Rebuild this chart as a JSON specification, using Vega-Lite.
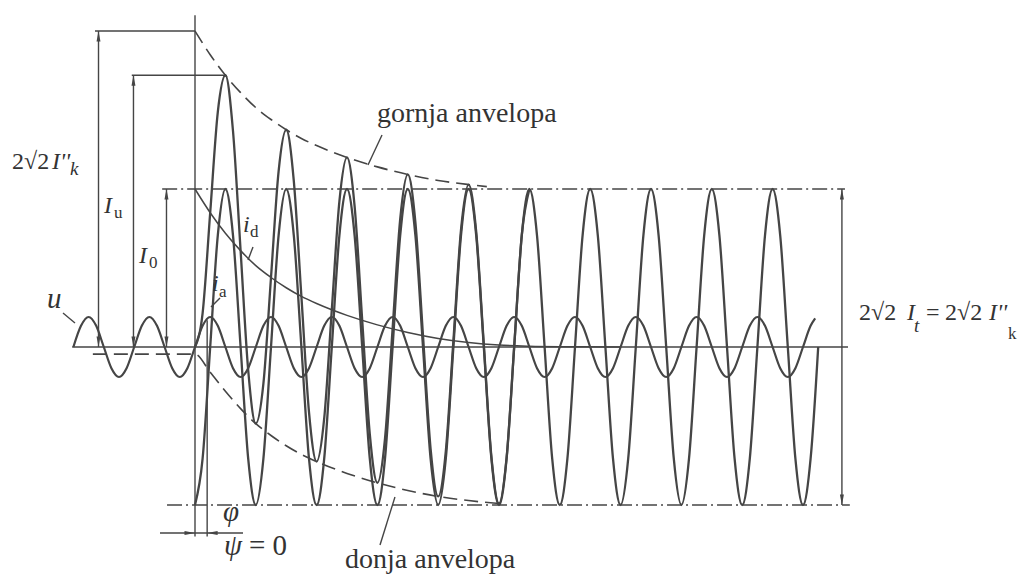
{
  "$schema": "https://vega.github.io/schema/vega-lite/v6.json",
  "width": 1032,
  "height": 585,
  "padding": 0,
  "autosize": {"type": "fit", "contains": "padding"},
  "background": "white",
  "config": {"view": {"stroke": null}},
  "datasets": {
    "u": [
      {"t": -2, "v": 0}, {"t": -1.875, "v": 0.134}, {"t": -1.75, "v": 0.19}, {"t": -1.625, "v": 0.134}, {"t": -1.5, "v": 0}, {"t": -1.375, "v": -0.134}, {"t": -1.25, "v": -0.19}, {"t": -1.125, "v": -0.134},
      {"t": -1, "v": 0}, {"t": -0.875, "v": 0.134}, {"t": -0.75, "v": 0.19}, {"t": -0.625, "v": 0.134}, {"t": -0.5, "v": 0}, {"t": -0.375, "v": -0.134}, {"t": -0.25, "v": -0.19}, {"t": -0.125, "v": -0.134},
      {"t": 0, "v": 0}, {"t": 0.125, "v": 0.134}, {"t": 0.25, "v": 0.19}, {"t": 0.375, "v": 0.134}, {"t": 0.5, "v": 0}, {"t": 0.625, "v": -0.134}, {"t": 0.75, "v": -0.19}, {"t": 0.875, "v": -0.134},
      {"t": 1, "v": 0}, {"t": 1.125, "v": 0.134}, {"t": 1.25, "v": 0.19}, {"t": 1.375, "v": 0.134}, {"t": 1.5, "v": 0}, {"t": 1.625, "v": -0.134}, {"t": 1.75, "v": -0.19}, {"t": 1.875, "v": -0.134},
      {"t": 2, "v": 0}, {"t": 2.125, "v": 0.134}, {"t": 2.25, "v": 0.19}, {"t": 2.375, "v": 0.134}, {"t": 2.5, "v": 0}, {"t": 2.625, "v": -0.134}, {"t": 2.75, "v": -0.19}, {"t": 2.875, "v": -0.134},
      {"t": 3, "v": 0}, {"t": 3.125, "v": 0.134}, {"t": 3.25, "v": 0.19}, {"t": 3.375, "v": 0.134}, {"t": 3.5, "v": 0}, {"t": 3.625, "v": -0.134}, {"t": 3.75, "v": -0.19}, {"t": 3.875, "v": -0.134},
      {"t": 4, "v": 0}, {"t": 4.125, "v": 0.134}, {"t": 4.25, "v": 0.19}, {"t": 4.375, "v": 0.134}, {"t": 4.5, "v": 0}, {"t": 4.625, "v": -0.134}, {"t": 4.75, "v": -0.19}, {"t": 4.875, "v": -0.134},
      {"t": 5, "v": 0}, {"t": 5.125, "v": 0.134}, {"t": 5.25, "v": 0.19}, {"t": 5.375, "v": 0.134}, {"t": 5.5, "v": 0}, {"t": 5.625, "v": -0.134}, {"t": 5.75, "v": -0.19}, {"t": 5.875, "v": -0.134},
      {"t": 6, "v": 0}, {"t": 6.125, "v": 0.134}, {"t": 6.25, "v": 0.19}, {"t": 6.375, "v": 0.134}, {"t": 6.5, "v": 0}, {"t": 6.625, "v": -0.134}, {"t": 6.75, "v": -0.19}, {"t": 6.875, "v": -0.134},
      {"t": 7, "v": 0}, {"t": 7.125, "v": 0.134}, {"t": 7.25, "v": 0.19}, {"t": 7.375, "v": 0.134}, {"t": 7.5, "v": 0}, {"t": 7.625, "v": -0.134}, {"t": 7.75, "v": -0.19}, {"t": 7.875, "v": -0.134},
      {"t": 8, "v": 0}, {"t": 8.125, "v": 0.134}, {"t": 8.25, "v": 0.19}, {"t": 8.375, "v": 0.134}, {"t": 8.5, "v": 0}, {"t": 8.625, "v": -0.134}, {"t": 8.75, "v": -0.19}, {"t": 8.875, "v": -0.134},
      {"t": 9, "v": 0}, {"t": 9.125, "v": 0.134}, {"t": 9.25, "v": 0.19}, {"t": 9.375, "v": 0.134}, {"t": 9.5, "v": 0}, {"t": 9.625, "v": -0.134}, {"t": 9.75, "v": -0.19}, {"t": 9.875, "v": -0.134},
      {"t": 10, "v": 0}, {"t": 10.125, "v": 0.134}, {"t": 10.2, "v": 0.181}
    ],
    "ia": [
      {"t": 0, "v": -1}, {"t": 0.125, "v": -0.707}, {"t": 0.25, "v": 0}, {"t": 0.375, "v": 0.707}, {"t": 0.5, "v": 1}, {"t": 0.625, "v": 0.707}, {"t": 0.75, "v": 0}, {"t": 0.875, "v": -0.707},
      {"t": 1, "v": -1}, {"t": 1.125, "v": -0.707}, {"t": 1.25, "v": 0}, {"t": 1.375, "v": 0.707}, {"t": 1.5, "v": 1}, {"t": 1.625, "v": 0.707}, {"t": 1.75, "v": 0}, {"t": 1.875, "v": -0.707},
      {"t": 2, "v": -1}, {"t": 2.125, "v": -0.707}, {"t": 2.25, "v": 0}, {"t": 2.375, "v": 0.707}, {"t": 2.5, "v": 1}, {"t": 2.625, "v": 0.707}, {"t": 2.75, "v": 0}, {"t": 2.875, "v": -0.707},
      {"t": 3, "v": -1}, {"t": 3.125, "v": -0.707}, {"t": 3.25, "v": 0}, {"t": 3.375, "v": 0.707}, {"t": 3.5, "v": 1}, {"t": 3.625, "v": 0.707}, {"t": 3.75, "v": 0}, {"t": 3.875, "v": -0.707},
      {"t": 4, "v": -1}, {"t": 4.125, "v": -0.707}, {"t": 4.25, "v": 0}, {"t": 4.375, "v": 0.707}, {"t": 4.5, "v": 1}, {"t": 4.625, "v": 0.707}, {"t": 4.75, "v": 0}, {"t": 4.875, "v": -0.707},
      {"t": 5, "v": -1}, {"t": 5.125, "v": -0.707}, {"t": 5.25, "v": 0}, {"t": 5.375, "v": 0.707}, {"t": 5.5, "v": 1}, {"t": 5.625, "v": 0.707}, {"t": 5.75, "v": 0}, {"t": 5.875, "v": -0.707},
      {"t": 6, "v": -1}, {"t": 6.125, "v": -0.707}, {"t": 6.25, "v": 0}, {"t": 6.375, "v": 0.707}, {"t": 6.5, "v": 1}, {"t": 6.625, "v": 0.707}, {"t": 6.75, "v": 0}, {"t": 6.875, "v": -0.707},
      {"t": 7, "v": -1}, {"t": 7.125, "v": -0.707}, {"t": 7.25, "v": 0}, {"t": 7.375, "v": 0.707}, {"t": 7.5, "v": 1}, {"t": 7.625, "v": 0.707}, {"t": 7.75, "v": 0}, {"t": 7.875, "v": -0.707},
      {"t": 8, "v": -1}, {"t": 8.125, "v": -0.707}, {"t": 8.25, "v": 0}, {"t": 8.375, "v": 0.707}, {"t": 8.5, "v": 1}, {"t": 8.625, "v": 0.707}, {"t": 8.75, "v": 0}, {"t": 8.875, "v": -0.707},
      {"t": 9, "v": -1}, {"t": 9.125, "v": -0.707}, {"t": 9.25, "v": 0}, {"t": 9.375, "v": 0.707}, {"t": 9.5, "v": 1}, {"t": 9.625, "v": 0.707}, {"t": 9.75, "v": 0}, {"t": 9.875, "v": -0.707},
      {"t": 10, "v": -1}, {"t": 10.125, "v": -0.707}, {"t": 10.25, "v": 0}
    ],
    "i": [
      {"t": 0, "v": 0}, {"t": 0.125, "v": 0.213}, {"t": 0.25, "v": 0.85}, {"t": 0.375, "v": 1.487}, {"t": 0.5, "v": 1.72}, {"t": 0.625, "v": 1.367}, {"t": 0.75, "v": 0.61}, {"t": 0.875, "v": -0.147},
      {"t": 1, "v": -0.485}, {"t": 1.125, "v": -0.232}, {"t": 1.25, "v": 0.44}, {"t": 1.375, "v": 1.112}, {"t": 1.5, "v": 1.375}, {"t": 1.625, "v": 1.052}, {"t": 1.75, "v": 0.32}, {"t": 1.875, "v": -0.412},
      {"t": 2, "v": -0.725}, {"t": 2.125, "v": -0.452}, {"t": 2.25, "v": 0.235}, {"t": 2.375, "v": 0.922}, {"t": 2.5, "v": 1.2}, {"t": 2.625, "v": 0.892}, {"t": 2.75, "v": 0.17}, {"t": 2.875, "v": -0.552},
      {"t": 3, "v": -0.86}, {"t": 3.125, "v": -0.58}, {"t": 3.25, "v": 0.115}, {"t": 3.375, "v": 0.81}, {"t": 3.5, "v": 1.092}, {"t": 3.625, "v": 0.789}, {"t": 3.75, "v": 0.072}, {"t": 3.875, "v": -0.644},
      {"t": 4, "v": -0.946}, {"t": 4.125, "v": -0.66}, {"t": 4.25, "v": 0.04}, {"t": 4.375, "v": 0.741}, {"t": 4.5, "v": 1.028}, {"t": 4.625, "v": 0.73}, {"t": 4.75, "v": 0.018}, {"t": 4.875, "v": -0.693},
      {"t": 5, "v": -0.99}, {"t": 5.125, "v": -0.7}, {"t": 5.25, "v": 0.004}, {"t": 5.375, "v": 0.709}, {"t": 5.5, "v": 1}
    ],
    "id": [
      {"t": 0, "v": 1}, {"t": 0.25, "v": 0.85}, {"t": 0.5, "v": 0.72}, {"t": 0.75, "v": 0.61}, {"t": 1, "v": 0.515}, {"t": 1.25, "v": 0.44}, {"t": 1.5, "v": 0.375}, {"t": 1.75, "v": 0.32},
      {"t": 2, "v": 0.275}, {"t": 2.5, "v": 0.2}, {"t": 3, "v": 0.14}, {"t": 3.5, "v": 0.092}, {"t": 4, "v": 0.054}, {"t": 4.5, "v": 0.028}, {"t": 5, "v": 0.012}, {"t": 5.5, "v": 0.005}, {"t": 6, "v": 0.002}, {"t": 7, "v": 0}
    ],
    "envelopes": [
      {"g": "gornja", "t": 0, "v": 2}, {"g": "gornja", "t": 0.25, "v": 1.85}, {"g": "gornja", "t": 0.5, "v": 1.72}, {"g": "gornja", "t": 0.75, "v": 1.61}, {"g": "gornja", "t": 1, "v": 1.515},
      {"g": "gornja", "t": 1.25, "v": 1.44}, {"g": "gornja", "t": 1.5, "v": 1.375}, {"g": "gornja", "t": 1.75, "v": 1.32}, {"g": "gornja", "t": 2, "v": 1.275}, {"g": "gornja", "t": 2.5, "v": 1.2},
      {"g": "gornja", "t": 3, "v": 1.14}, {"g": "gornja", "t": 3.5, "v": 1.092}, {"g": "gornja", "t": 4, "v": 1.054}, {"g": "gornja", "t": 4.5, "v": 1.028}, {"g": "gornja", "t": 4.8, "v": 1.015},
      {"g": "donja", "t": -1.68, "v": -0.045}, {"g": "donja", "t": 0, "v": -0.045}, {"g": "donja", "t": 0.25, "v": -0.16}, {"g": "donja", "t": 0.5, "v": -0.28}, {"g": "donja", "t": 0.75, "v": -0.39},
      {"g": "donja", "t": 1, "v": -0.485}, {"g": "donja", "t": 1.25, "v": -0.56}, {"g": "donja", "t": 1.5, "v": -0.625}, {"g": "donja", "t": 1.75, "v": -0.68}, {"g": "donja", "t": 2, "v": -0.725},
      {"g": "donja", "t": 2.5, "v": -0.8}, {"g": "donja", "t": 3, "v": -0.86}, {"g": "donja", "t": 3.5, "v": -0.908}, {"g": "donja", "t": 4, "v": -0.946}, {"g": "donja", "t": 4.5, "v": -0.972}, {"g": "donja", "t": 5, "v": -0.99}
    ],
    "levels": [
      {"g": "I0", "t": -0.54, "v": 1}, {"g": "I0", "t": 10.69, "v": 1},
      {"g": "minusI0", "t": -0.46, "v": -1}, {"g": "minusI0", "t": 10.77, "v": -1}
    ],
    "segments": [
      {"name": "time axis", "t": -2.02, "v": 0, "t2": 10.74, "v2": 0},
      {"name": "switching instant", "t": 0, "v": 2.1, "t2": 0, "v2": -1.2},
      {"name": "phase mark", "t": 0.2, "v": 0.17, "t2": 0.2, "v2": -1.2},
      {"name": "2sqrt2 Ik level", "t": -1.645, "v": 2, "t2": 0, "v2": 2},
      {"name": "Iu level", "t": -1.04, "v": 1.72, "t2": 0.5, "v2": 1.72},
      {"name": "2sqrt2 Ik", "t": -1.587, "v": 0, "t2": -1.587, "v2": 2},
      {"name": "Iu", "t": -1.012, "v": 0, "t2": -1.012, "v2": 1.72},
      {"name": "I0", "t": -0.469, "v": 0, "t2": -0.469, "v2": 1},
      {"name": "2sqrt2 It", "t": 10.64, "v": -1, "t2": 10.64, "v2": 1},
      {"name": "phi", "t": -0.576, "v": -1.177, "t2": 0.79, "v2": -1.177},
      {"name": "u leader", "t": -2.171, "v": 0.215, "t2": -1.974, "v2": 0.152},
      {"name": "ia leader", "t": 0.411, "v": 0.31, "t2": 0.263, "v2": 0.253},
      {"name": "id leader", "t": 0.954, "v": 0.633, "t2": 0.872, "v2": 0.551},
      {"name": "gornja leader", "t": 3.076, "v": 1.342, "t2": 2.845, "v2": 1.152},
      {"name": "donja leader", "t": 3.289, "v": -0.949, "t2": 3.043, "v2": -1.253}
    ],
    "heads": [
      {"t": -1.587, "v": 2, "dir": "up"}, {"t": -1.587, "v": 0, "dir": "down"},
      {"t": -1.012, "v": 1.72, "dir": "up"}, {"t": -1.012, "v": 0, "dir": "down"},
      {"t": -0.469, "v": 1, "dir": "up"}, {"t": -0.469, "v": 0, "dir": "down"},
      {"t": 10.64, "v": 1, "dir": "up"}, {"t": 10.64, "v": -1, "dir": "down"},
      {"t": 0, "v": -1.177, "dir": "right"}, {"t": 0.2, "v": -1.177, "dir": "left"}
    ],
    "mathUpright": [
      {"txt": "2√2", "t": -3.01, "v": 1.127},
      {"txt": "2√2", "t": 10.921, "v": 0.171},
      {"txt": "=", "t": 12.023, "v": 0.171},
      {"txt": "2√2", "t": 12.336, "v": 0.171}
    ],
    "mathItalic": [
      {"txt": "I''", "t": -2.352, "v": 1.127},
      {"txt": "I", "t": -1.497, "v": 0.848},
      {"txt": "I", "t": -0.921, "v": 0.532},
      {"txt": "i", "t": 0.789, "v": 0.728},
      {"txt": "i", "t": 0.28, "v": 0.354},
      {"txt": "I", "t": 11.711, "v": 0.171},
      {"txt": "I''", "t": 13.059, "v": 0.171}
    ],
    "subUpright": [
      {"txt": "u", "t": -1.332, "v": 0.816},
      {"txt": "0", "t": -0.757, "v": 0.5},
      {"txt": "d", "t": 0.905, "v": 0.696},
      {"txt": "a", "t": 0.395, "v": 0.316},
      {"txt": "k", "t": 13.372, "v": 0.051}
    ],
    "subItalic": [
      {"txt": "k", "t": -2.056, "v": 1.089},
      {"txt": "t", "t": 11.826, "v": 0.095}
    ],
    "symbolsItalic": [
      {"txt": "u", "t": -2.434, "v": 0.247},
      {"txt": "φ", "t": 0.4605, "v": -1.101},
      {"txt": "ψ", "t": 0.477, "v": -1.316}
    ],
    "symbolsUpright": [
      {"txt": "= 0", "t": 0.888, "v": -1.316}
    ],
    "notes": [
      {"txt": "gornja anvelopa", "t": 2.993, "v": 1.424},
      {"txt": "donja anvelopa", "t": 2.467, "v": -1.399}
    ]
  },
  "encoding": {
    "x": {"field": "t", "type": "quantitative", "scale": {"domain": [-3.2072, 13.7664], "nice": false, "zero": false}, "axis": null},
    "y": {"field": "v", "type": "quantitative", "scale": {"domain": [-1.5063, 2.1962], "nice": false, "zero": false}, "axis": null}
  },
  "layer": [
    {
      "data": {"name": "levels"},
      "mark": {"type": "line", "color": "#454545", "strokeWidth": 1.5, "strokeDash": [15, 4, 2, 4]},
      "encoding": {"detail": {"field": "g"}}
    },
    {
      "data": {"name": "envelopes"},
      "mark": {"type": "line", "color": "#454545", "strokeWidth": 1.6, "strokeDash": [14, 7], "interpolate": "monotone"},
      "encoding": {"detail": {"field": "g"}}
    },
    {
      "data": {"name": "segments"},
      "mark": {"type": "rule", "color": "#454545", "strokeWidth": 1.4},
      "encoding": {"x2": {"field": "t2"}, "y2": {"field": "v2"}}
    },
    {
      "data": {"name": "id"},
      "mark": {"type": "line", "color": "#454545", "strokeWidth": 1.5, "interpolate": "monotone"},
      "encoding": {}
    },
    {
      "data": {"name": "u"},
      "mark": {"type": "line", "color": "#454545", "strokeWidth": 2.2, "interpolate": "monotone"},
      "encoding": {}
    },
    {
      "data": {"name": "ia"},
      "mark": {"type": "line", "color": "#454545", "strokeWidth": 2.3, "interpolate": "monotone"},
      "encoding": {}
    },
    {
      "data": {"name": "i"},
      "mark": {"type": "line", "color": "#454545", "strokeWidth": 2.3, "interpolate": "monotone"},
      "encoding": {}
    },
    {
      "data": {"name": "heads"},
      "mark": {"type": "point", "filled": true, "color": "#454545", "opacity": 1, "size": 110, "strokeWidth": 0},
      "encoding": {
        "shape": {
          "field": "dir",
          "type": "nominal",
          "scale": {"domain": ["up", "down", "right", "left"], "range": ["M0,0L0.38,2L-0.38,2Z", "M0,0L0.38,-2L-0.38,-2Z", "M0,0L-2,0.38L-2,-0.38Z", "M0,0L2,0.38L2,-0.38Z"]},
          "legend": null
        }
      }
    },
    {
      "data": {"name": "mathUpright"},
      "mark": {"type": "text", "font": "Liberation Serif", "fontSize": 24, "color": "#333333", "align": "left", "baseline": "alphabetic"},
      "encoding": {"text": {"field": "txt"}}
    },
    {
      "data": {"name": "mathItalic"},
      "mark": {"type": "text", "font": "Liberation Serif", "fontStyle": "italic", "fontSize": 24, "color": "#333333", "align": "left", "baseline": "alphabetic"},
      "encoding": {"text": {"field": "txt"}}
    },
    {
      "data": {"name": "subUpright"},
      "mark": {"type": "text", "font": "Liberation Serif", "fontSize": 17, "color": "#333333", "align": "left", "baseline": "alphabetic"},
      "encoding": {"text": {"field": "txt"}}
    },
    {
      "data": {"name": "subItalic"},
      "mark": {"type": "text", "font": "Liberation Serif", "fontStyle": "italic", "fontSize": 19, "color": "#333333", "align": "left", "baseline": "alphabetic"},
      "encoding": {"text": {"field": "txt"}}
    },
    {
      "data": {"name": "symbolsItalic"},
      "mark": {"type": "text", "font": "Liberation Serif", "fontStyle": "italic", "fontSize": 29, "color": "#333333", "align": "left", "baseline": "alphabetic"},
      "encoding": {"text": {"field": "txt"}}
    },
    {
      "data": {"name": "symbolsUpright"},
      "mark": {"type": "text", "font": "Liberation Serif", "fontSize": 29, "color": "#333333", "align": "left", "baseline": "alphabetic"},
      "encoding": {"text": {"field": "txt"}}
    },
    {
      "data": {"name": "notes"},
      "mark": {"type": "text", "font": "Liberation Serif", "fontSize": 28, "color": "#333333", "align": "left", "baseline": "alphabetic"},
      "encoding": {"text": {"field": "txt"}}
    }
  ]
}
